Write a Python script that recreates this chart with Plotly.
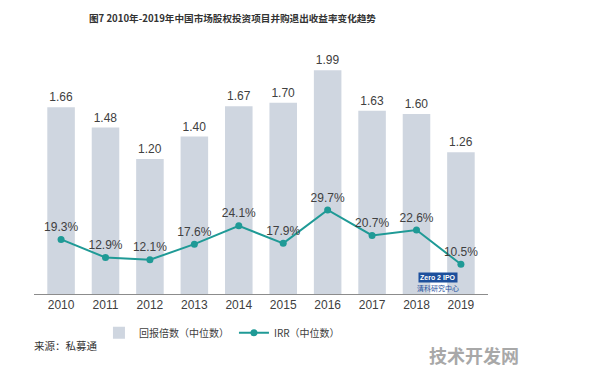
import plotly.graph_objects as go

years = ["2010", "2011", "2012", "2013", "2014", "2015", "2016", "2017", "2018", "2019"]
multiple = [1.66, 1.48, 1.20, 1.40, 1.67, 1.70, 1.99, 1.63, 1.60, 1.26]
irr_pct = [19.3, 12.9, 12.1, 17.6, 24.1, 17.9, 29.7, 20.7, 22.6, 10.5]

FONT = "Liberation Sans, Arial, Noto Sans CJK SC, sans-serif"
CJK = "Noto Sans CJK SC, Liberation Sans, sans-serif"
TXT = "#404040"

fig = go.Figure()
fig.add_trace(go.Bar(
    x=years, y=multiple, name="回报倍数（中位数）",
    marker=dict(color="#cfd6e0", line=dict(width=0)),
    width=0.62,
    text=[f"{v:.2f}" for v in multiple], textposition="outside",
    textfont=dict(size=12, color=TXT, family=FONT),
    cliponaxis=False,
))
fig.add_trace(go.Scatter(
    x=years, y=irr_pct, name="IRR（中位数）", yaxis="y2",
    mode="lines+markers+text",
    line=dict(color="#1f9a96", width=2),
    marker=dict(color="#1f9a96", size=7),
    text=[f"{v:.1f}%" for v in irr_pct], textposition="top center",
    textfont=dict(size=12, color=TXT, family=FONT),
    cliponaxis=False,
))

top = 40
base = 294
h = base - top
fig.update_layout(
    width=596, height=372,
    margin=dict(l=34, r=108, t=top, b=372 - base),
    paper_bgcolor="white", plot_bgcolor="white",
    showlegend=True,
    legend=dict(orientation="h", x=0.414, xanchor="center", y=-0.095, yanchor="top",
                font=dict(size=10, color=TXT, family=CJK), itemwidth=30),
    xaxis=dict(type="category", showgrid=False, showline=True, linecolor="#8c8c8c", linewidth=1,
               ticks="", tickfont=dict(size=12, color=TXT, family=FONT)),
    yaxis=dict(range=[0, h / 112.5], visible=False, showgrid=False),
    yaxis2=dict(range=[0, h / 2.83], overlaying="y", visible=False, showgrid=False),
    bargap=0.38,
    annotations=[
        dict(text="<b>图7 2010年-2019年中国市场股权投资项目并购退出收益率变化趋势</b>",
             xref="paper", yref="paper", x=(87 - 34) / 454, y=(base - 18) / h, xanchor="left", yanchor="middle",
             showarrow=False, font=dict(size=9.6, color="#333333", family=CJK)),
        dict(text="来源：私募通", xref="paper", yref="paper", x=(32 - 34) / 454, y=(base - 345) / h,
             xanchor="left", yanchor="middle", showarrow=False,
             font=dict(size=10.5, color="#333333", family=CJK)),
        dict(text="<b>技术开发网</b>", xref="paper", yref="paper", x=(427 - 34) / 454, y=(base - 355) / h,
             xanchor="left", yanchor="middle", showarrow=False,
             font=dict(size=18, color="#a8a8a8", family=CJK)),
        dict(text="<b>Zero 2 IPO</b>", xref="paper", yref="paper", x=(438 - 34) / 454, y=(base - 277) / h,
             xanchor="center", yanchor="middle", showarrow=False, bgcolor="#1d4f9c",
             font=dict(size=7, color="white", family=FONT), borderpad=1),
        dict(text="清科研究中心", xref="paper", yref="paper", x=(438 - 34) / 454, y=(base - 288) / h,
             xanchor="center", yanchor="middle", showarrow=False,
             font=dict(size=7, color="#1d4f9c", family=CJK)),
    ],
)
fig.write_html("out.html", config={"displayModeBar": False},
               post_script="document.body.style.margin='0';")
